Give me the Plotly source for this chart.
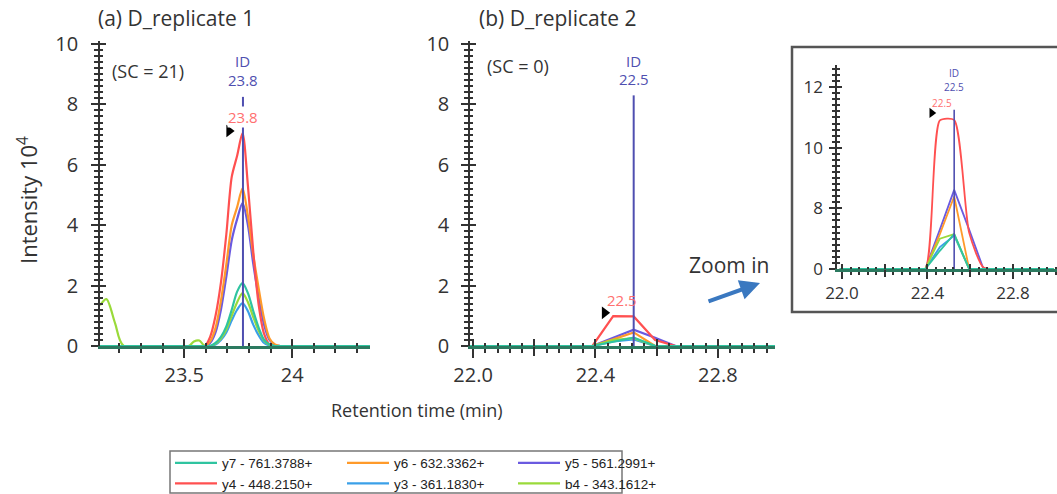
import plotly.graph_objects as go

# ---------------- data ----------------
series_names = ["y7 - 761.3788+", "y6 - 632.3362+", "y5 - 561.2991+",
                "y4 - 448.2150+", "y3 - 361.1830+", "b4 - 343.1612+"]
series_keys = ["y7", "y6", "y5", "y4", "y3", "b4"]

# Panel (a): retention times (min) and intensities (x10^4)
time_a = [23.11, 23.14, 23.18, 23.22, 23.52, 23.545, 23.57, 23.595, 23.62, 23.645,
          23.67, 23.695, 23.72, 23.745, 23.77, 23.795, 23.82, 23.845, 23.87, 23.895,
          23.92, 23.945, 24.36]
a_y7 = [0, 0, 0, 0, 0, 0, 0, 0, 0, 0.1, 0.3, 0.65, 1.2, 1.8, 2.08, 1.75, 1.15, 0.6, 0.2, 0.05, 0, 0, 0]
a_y6 = [0, 0, 0, 0, 0, 0, 0, 0, 0.15, 0.6, 1.5, 2.7, 4.0, 4.6, 5.22, 4.3, 3.0, 1.9, 0.9, 0.25, 0.05, 0, 0]
a_y5 = [0, 0, 0, 0, 0, 0, 0, 0, 0.1, 0.45, 1.2, 2.3, 3.5, 4.2, 4.73, 4.0, 2.7, 1.6, 0.7, 0.2, 0.03, 0, 0]
a_y4 = [0, 0, 0, 0, 0, 0, 0, 0, 0.3, 1.0, 2.1, 3.7, 5.6, 6.3, 7.05, 5.3, 3.1, 1.35, 0.4, 0.05, 0, 0, 0]
a_y3 = [0, 0, 0, 0, 0, 0, 0, 0, 0, 0.05, 0.2, 0.45, 0.85, 1.2, 1.42, 1.15, 0.7, 0.35, 0.1, 0.02, 0, 0, 0]
a_b4 = [1.35, 1.55, 0.75, 0, 0, 0.15, 0.18, 0, 0, 0.08, 0.25, 0.55, 1.0, 1.45, 1.75, 1.45, 0.95, 0.5, 0.18, 0.04, 0, 0, 0]

# Panel (b): retention times (min) and intensities (x10^4)
time_b = [21.99, 22.323, 22.39, 22.458, 22.525, 22.595, 22.662, 22.73, 22.99]
b_y7 = [0, 0, 0, 0.14, 0.28, 0, 0, 0, 0]
b_y6 = [0, 0, 0, 0.22, 0.45, 0, 0, 0, 0]
b_y5 = [0, 0, 0, 0.27, 0.54, 0.27, 0, 0, 0]
b_y4 = [0, 0, 0, 0.99, 0.98, 0.2, 0, 0, 0]
b_y3 = [0, 0, 0, 0.15, 0.22, 0, 0, 0, 0]
b_b4 = [0, 0, 0, 0.2, 0.26, 0, 0, 0, 0]

# Inset (zoom of panel b), values in the inset's own axis units
z_y7 = [0, 0, 0, 0.6, 1.16, 0, 0, 0, 0]
z_y6 = [0, 0, 0, 1.15, 2.39, 0, 0, 0, 0]
z_y5 = [0, 0, 0, 1.3, 2.61, 1.3, 0, 0, 0]
z_y4 = [0, 0, 0, 4.9, 4.92, 1.2, 0.05, 0, 0]
z_y3 = [0, 0, 0, 0.72, 1.1, 0, 0, 0, 0]
z_b4 = [0, 0, 0, 1.0, 1.15, 0, 0, 0, 0]
inset_tickvals = [0, 2, 4, 6]
inset_ticktext = ["0", "8", "10", "12"]

a_tickvals = [23.5, 24.0]
a_ticktext = ["23.5", "24"]
b_tickvals = [22.0, 22.4, 22.8]
b_ticktext = ["22.0", "22.4", "22.8"]
b_long_ticks = [22.2, 22.6]
y_tickvals = [0, 2, 4, 6, 8, 10]

id_rt = [23.772, 22.525, 22.525]          # identification retention time per panel
id_labels = ["23.8", "22.5", "22.5"]
apex_rt = [23.708, 22.43, 22.42]          # black apex pointer
apex_int = [7.12, 1.1, 5.15]

colors = {"y7": "#2fc4a0", "y6": "#ff9a2a", "y5": "#6a5ae0",
          "y4": "#ff5050", "y3": "#3aa0e8", "b4": "#9ada3a"}
legend_of = {"y7": "legend", "y4": "legend", "y6": "legend2",
             "y3": "legend2", "y5": "legend3", "b4": "legend3"}
rank_of = {"y7": 1, "y4": 2, "y6": 1, "y3": 2, "y5": 1, "b4": 2}
draw_order = ["y5", "y6", "y4", "y3", "b4", "y7"]

data_a = dict(y7=a_y7, y6=a_y6, y5=a_y5, y4=a_y4, y3=a_y3, b4=a_b4)
data_b = dict(y7=b_y7, y6=b_y6, y5=b_y5, y4=b_y4, y3=b_y3, b4=b_b4)
data_z = dict(y7=z_y7, y6=z_y6, y5=z_y5, y4=z_y4, y3=z_y3, b4=z_b4)

FONT = "Open Sans"
TXT = "#333"
TICK = "#333"
ID_COLOR = "#4f4fb0"
RED_LABEL = "#ff7070"

fig = go.Figure()

for k in draw_order:
    name = series_names[series_keys.index(k)]
    fig.add_trace(go.Scatter(
        x=time_a, y=data_a[k], mode="lines", name=name,
        line=dict(color=colors[k], width=2.2, shape="spline", smoothing=0.8),
        legend=legend_of[k], legendrank=rank_of[k], showlegend=True,
        xaxis="x", yaxis="y"))
    fig.add_trace(go.Scatter(
        x=time_b, y=data_b[k], mode="lines", name=name,
        line=dict(color=colors[k], width=2.2),
        showlegend=False, xaxis="x2", yaxis="y2"))
    fig.add_trace(go.Scatter(
        x=time_b, y=data_z[k], mode="lines", name=name,
        line=dict(color=colors[k], width=1.8,
                  shape="spline" if k == "y4" else "linear", smoothing=0.6),
        showlegend=False, xaxis="x3", yaxis="y3"))

# ID lines and apex pointers
id_tops = [8.25, 8.3, 5.25]
axes_pairs = [("x", "y"), ("x2", "y2"), ("x3", "y3")]
for i, (xa, ya) in enumerate(axes_pairs):
    fig.add_trace(go.Scatter(x=[id_rt[i], id_rt[i]], y=[0, id_tops[i]], mode="lines",
                             line=dict(color=ID_COLOR, width=2 if i < 2 else 1.6),
                             showlegend=False, xaxis=xa, yaxis=ya))
    fig.add_trace(go.Scatter(x=[apex_rt[i]], y=[apex_int[i]], mode="markers",
                             marker=dict(symbol="triangle-right", size=11 if i < 2 else 9,
                                         color="black"),
                             showlegend=False, xaxis=xa, yaxis=ya))

# ---------------- axes ----------------
ydom = [0.2996, 0.917]
common_x = dict(showgrid=False, zeroline=False, showline=True, linecolor="#2c7a60",
                linewidth=3, ticks="outside", tickcolor=TICK, tickwidth=1.5,
                tickfont=dict(family=FONT, size=20, color=TXT))
common_y = dict(showgrid=False, zeroline=False, showline=True, linecolor="#333",
                linewidth=1.5, ticks="outside", tickcolor=TICK, tickwidth=1.5, ticklen=7,
                tickfont=dict(family=FONT, size=20, color=TXT))
# tick-only overlay axes (ticks crossing the axis lines)
overlay = dict(showline=False, showgrid=False, zeroline=False, showticklabels=False,
               tickcolor=TICK, tickwidth=1.5)

fig.update_layout(
    xaxis=dict(common_x, domain=[0.0946, 0.35], range=[23.11, 24.36], anchor="y",
               tickvals=a_tickvals, ticktext=a_ticktext, ticklen=9,
               minor=dict(dtick=0.1, tick0=23.0, ticklen=4, tickcolor=TICK, ticks="outside")),
    yaxis=dict(common_y, domain=ydom, range=[0, 10.1], anchor="x",
               tickvals=y_tickvals, ticklabelstandoff=9,
               minor=dict(dtick=0.2, ticklen=4, tickcolor=TICK, ticks="outside")),
    xaxis2=dict(common_x, domain=[0.4447, 0.7332], range=[21.99, 22.987], anchor="y2",
                tickvals=b_tickvals, ticktext=b_ticktext, ticklen=9,
                minor=dict(dtick=0.04, tick0=22.0, ticklen=4, tickcolor=TICK, ticks="outside")),
    yaxis2=dict(common_y, domain=ydom, range=[0, 10.1], anchor="x2",
                tickvals=y_tickvals, ticklabelstandoff=8,
                minor=dict(dtick=0.2, ticklen=4, tickcolor=TICK, ticks="outside")),
    xaxis3=dict(common_x, domain=[0.7919, 1.0], range=[21.977, 23.006], anchor="y3",
                tickvals=b_tickvals, ticktext=b_ticktext,
                ticklen=7, tickfont=dict(family=FONT, size=17, color=TXT),
                minor=dict(dtick=0.04, tick0=22.0, ticklen=3, tickcolor=TICK, ticks="outside")),
    yaxis3=dict(common_y, domain=[0.4555, 0.8684], range=[0, 6.73], anchor="x3",
                tickvals=inset_tickvals, ticktext=inset_ticktext, ticklen=6,
                tickfont=dict(family=FONT, size=17, color=TXT), ticklabelstandoff=3,
                minor=dict(dtick=0.2, ticklen=3, tickcolor=TICK, ticks="outside")),
    # long unlabeled ticks at 22.2 / 22.6
    xaxis4=dict(overlay, overlaying="x2", matches="x2", anchor="y2", side="bottom",
                tickvals=b_long_ticks, ticks="outside", ticklen=9),
    xaxis5=dict(overlay, overlaying="x3", matches="x3", anchor="y3", side="bottom",
                tickvals=b_long_ticks, ticks="outside", ticklen=7),
    # inside halves of crossing ticks
    xaxis6=dict(overlay, overlaying="x", matches="x", anchor="y4", side="bottom",
                tickvals=a_tickvals, ticks="inside", ticklen=7,
                minor=dict(dtick=0.1, tick0=23.0, ticklen=3, tickcolor=TICK, ticks="inside")),
    yaxis4=dict(overlay, overlaying="y", matches="y", anchor="x6", side="left",
                tickvals=y_tickvals, ticks="inside", ticklen=6,
                minor=dict(dtick=0.2, ticklen=3, tickcolor=TICK, ticks="inside")),
    xaxis7=dict(overlay, overlaying="x2", matches="x2", anchor="y5", side="bottom",
                tickvals=b_tickvals + b_long_ticks, ticks="inside", ticklen=7,
                minor=dict(dtick=0.04, tick0=22.0, ticklen=3, tickcolor=TICK, ticks="inside")),
    yaxis5=dict(overlay, overlaying="y2", matches="y2", anchor="x7", side="left",
                tickvals=y_tickvals, ticks="inside", ticklen=6,
                minor=dict(dtick=0.2, ticklen=3, tickcolor=TICK, ticks="inside")),
    xaxis8=dict(overlay, overlaying="x3", matches="x3", anchor="y6", side="bottom",
                tickvals=b_tickvals + b_long_ticks, ticks="inside", ticklen=5,
                minor=dict(dtick=0.04, tick0=22.0, ticklen=2, tickcolor=TICK, ticks="inside")),
    yaxis6=dict(overlay, overlaying="y3", matches="y3", anchor="x8", side="left",
                tickvals=inset_tickvals, ticks="inside", ticklen=5,
                minor=dict(dtick=0.2, ticklen=3, tickcolor=TICK, ticks="inside")),
)
# invisible carriers so the overlay tick axes are drawn
for xa, ya in [("x4", "y2"), ("x5", "y3"), ("x6", "y4"), ("x7", "y5"), ("x8", "y6")]:
    fig.add_trace(go.Scatter(x=[None], y=[None], mode="markers", marker=dict(opacity=0),
                             showlegend=False, hoverinfo="skip", xaxis=xa, yaxis=ya))

# ---------------- legends ----------------
leg_common = dict(orientation="v", yanchor="top", xanchor="left", y=0.094,
                  bgcolor="rgba(0,0,0,0)", borderwidth=0, tracegroupgap=0,
                  font=dict(family="Liberation Sans", size=13.5, color="#222"),
                  itemwidth=42)
fig.update_layout(
    legend=dict(leg_common, x=170 / 1057),
    legend2=dict(leg_common, x=342 / 1057),
    legend3=dict(leg_common, x=513 / 1057),
)

# ---------------- annotations ----------------
ann = []
def txt(text, x, y, size, color=TXT, xanchor="center", xref="paper", yref="paper",
        bg=None, angle=0, family=FONT):
    d = dict(text=text, x=x, y=y, xref=xref, yref=yref, showarrow=False,
             xanchor=xanchor, yanchor="middle", textangle=angle,
             font=dict(family=family, size=size, color=color))
    if bg:
        d["bgcolor"] = bg
        d["borderpad"] = 0
    ann.append(d)

H = 494.0
W = 1057.0
txt("(a) D_replicate 1", 96 / W, 1 - 18 / H, 21, xanchor="left")
txt("(b) D_replicate 2", 477 / W, 1 - 18 / H, 21, xanchor="left")
txt("(SC = 21)", 110 / W, 1 - 71 / H, 18, xanchor="left")
txt("(SC = 0)", 485 / W, 1 - 66 / H, 18, xanchor="left")
txt("Intensity 10<sup>4</sup>", 27 / W, 1 - 200 / H, 22, angle=-90)
txt("Retention time (min)", 417 / W, 1 - 410 / H, 18)
txt("Zoom in", 729 / W, 1 - 265 / H, 21)

# ID labels
txt("ID", id_rt[0], 9.44, 15, ID_COLOR, xref="x", yref="y")
txt(id_labels[0], id_rt[0], 8.81, 15, ID_COLOR, xref="x", yref="y")
txt(id_labels[0], id_rt[0], 7.58, 15, RED_LABEL, xref="x", yref="y", bg="white")
txt("ID", id_rt[1], 9.45, 15, ID_COLOR, xref="x2", yref="y2")
txt(id_labels[1], id_rt[1], 8.85, 15, ID_COLOR, xref="x2", yref="y2")
txt(id_labels[1], 22.488, 1.53, 15, RED_LABEL, xref="x2", yref="y2")
txt("ID", id_rt[2], 6.47, 10, ID_COLOR, xref="x3", yref="y3")
txt(id_labels[2], id_rt[2], 6.0, 10, ID_COLOR, xref="x3", yref="y3")
txt(id_labels[2], 22.468, 5.48, 10, RED_LABEL, xref="x3", yref="y3")

# zoom arrow
ann.append(dict(x=760 / W, y=1 - 283 / H, xref="paper", yref="paper", text="",
                showarrow=True, ax=-53, ay=19, arrowhead=2, arrowsize=1,
                arrowwidth=4, arrowcolor="#3a78c0"))

fig.update_layout(annotations=ann)

# inset frame and legend frame
fig.update_layout(shapes=[
    dict(type="rect", xref="paper", yref="paper", x0=792 / W, x1=1.02,
         y0=1 - 312 / H, y1=1 - 47 / H, line=dict(color="#555", width=2.5)),
    dict(type="rect", xref="paper", yref="paper", x0=170 / W, x1=622 / W,
         y0=1 - 493 / H, y1=1 - 451 / H, line=dict(color="#777", width=1.5)),
])

fig.update_layout(width=1057, height=494,
                  margin=dict(l=0, r=0, t=0, b=0, autoexpand=False),
                  paper_bgcolor="white", plot_bgcolor="white",
                  font=dict(family=FONT))

fig.write_html("out.html")
